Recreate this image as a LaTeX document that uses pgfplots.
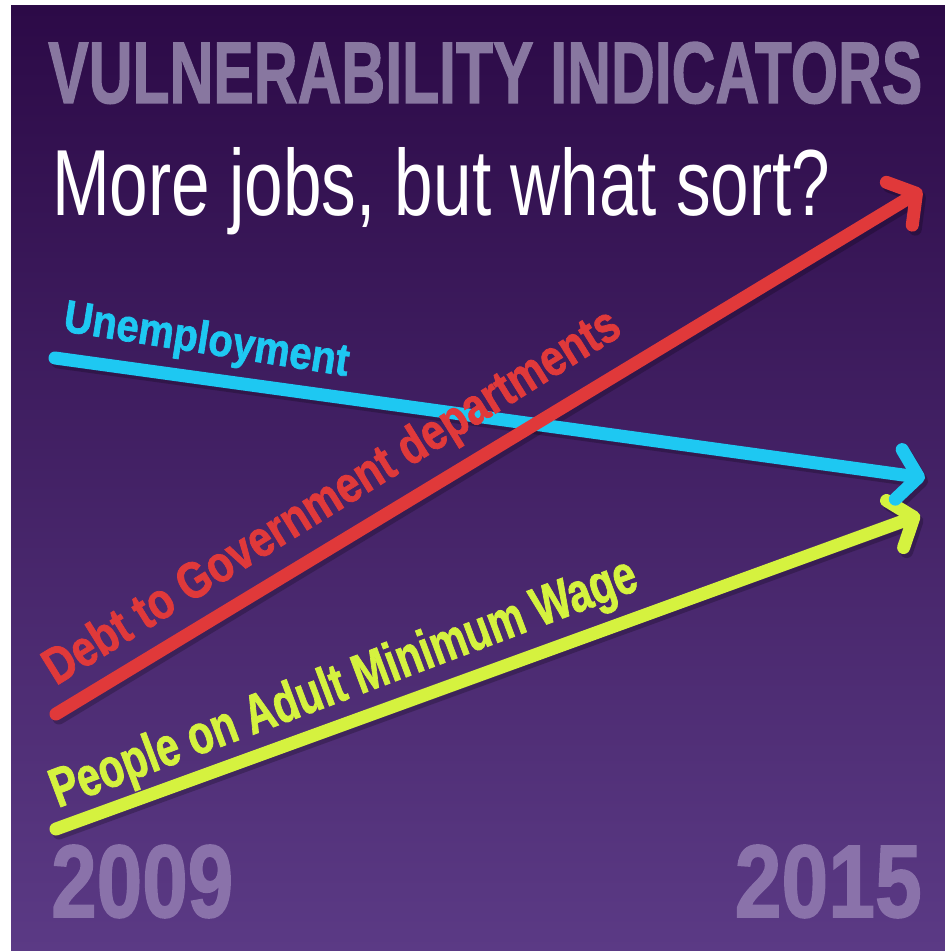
\documentclass[border=0pt]{standalone}
\usepackage{pgfplots}
\pgfplotsset{compat=1.18}
\usepackage{graphicx}
\usepackage{fontspec}
\setmainfont{Liberation Sans}
\newfontfamily\heavy{Liberation Sans}[BoldFeatures={FakeBold=1.6}]
\usetikzlibrary{arrows.meta}
\definecolor{bgtop}{HTML}{2C0A47}
\definecolor{bgbot}{HTML}{5B3A85}
\definecolor{ttl}{HTML}{8877A0}
\definecolor{yrs}{HTML}{8A72AA}
\definecolor{cyanL}{HTML}{1EC8F2}
\definecolor{redL}{HTML}{E0393A}
\definecolor{yelL}{HTML}{D5F23F}
\tikzset{myarrow/.style={-{Straight Barb[round, length=20bp, width=50bp]}}}
\begin{document}
\begin{tikzpicture}
\fill[white] (0,0) rectangle (945bp,951bp);
\shade[top color=bgtop, bottom color=bgbot] (11bp,0) rectangle (945bp,945bp);
\begin{axis}[scale only axis, width=945bp, height=951bp,
  xmin=0, xmax=945, ymin=0, ymax=951, y dir=reverse,
  hide axis, clip=false, anchor=south west, at={(0,0)}]
% shadows
\addplot[no marks, black, opacity=0.22, line width=13bp, line cap=round, xshift=3bp, yshift=-4bp, myarrow] coordinates {(56,829) (920,515)};
\addplot[no marks, black, opacity=0.22, line width=13bp, line cap=round, xshift=3bp, yshift=-4bp, myarrow] coordinates {(55,358) (925,478)};
\addplot[no marks, black, opacity=0.22, line width=13bp, line cap=round, xshift=3bp, yshift=-4bp, myarrow] coordinates {(56,714) (922,190)};
% lines
\addplot[no marks, yelL, line width=13bp, line cap=round, myarrow] coordinates {(56,829) (920,515)};
\addplot[no marks, cyanL, line width=13bp, line cap=round, myarrow] coordinates {(55,358) (925,478)};
\addplot[no marks, redL, line width=13bp, line cap=round, myarrow] coordinates {(56,714) (922,190)};
% texts
\node[anchor=base west, inner sep=0, text=ttl] at (48,103) {\resizebox{874bp}{61bp}{\heavy\bfseries VULNERABILITY INDICATORS}};
\node[anchor=base west, inner sep=0, text=white] at (52,215) {\resizebox{778bp}{68bp}{More jobs, but what sort?}};
\node[anchor=base west, inner sep=0, text=yrs] at (51,917) {\resizebox{182bp}{72bp}{\heavy\bfseries 2009}};
\node[anchor=base east, inner sep=0, text=yrs] at (922,917) {\resizebox{187bp}{72bp}{\heavy\bfseries 2015}};
\node[anchor=base west, rotate=-9, inner sep=0, text=cyanL] at (62,331) {\resizebox{288bp}{33bp}{\heavy\bfseries Unemployment}};
\node[anchor=base west, rotate=31.8, inner sep=0, text=redL] at (56,686) {\resizebox{668bp}{37bp}{\heavy\bfseries Debt to Government departments}};
\node[anchor=base west, rotate=20.6, inner sep=0, text=yelL] at (58,808) {\resizebox{622bp}{40bp}{\heavy\bfseries People on Adult Minimum Wage}};
\end{axis}
\end{tikzpicture}
\end{document}
